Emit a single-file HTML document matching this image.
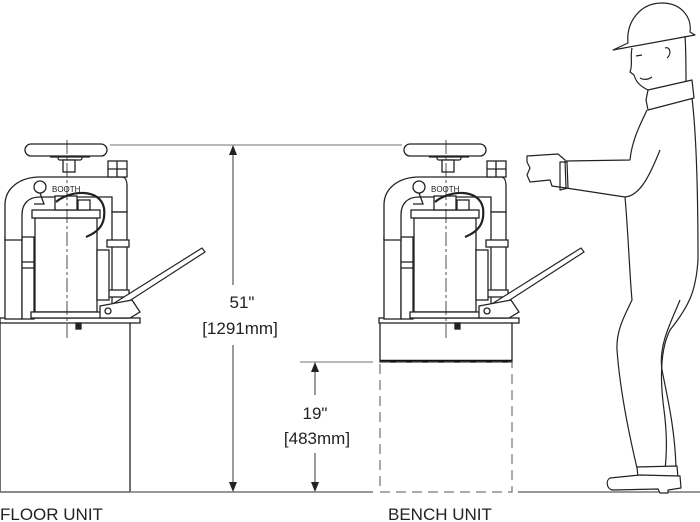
<!DOCTYPE html>
<html><head><style>html,body{margin:0;padding:0;background:#fff}svg{display:block}</style></head><body>
<svg width="700" height="522" viewBox="0 0 700 522" xmlns="http://www.w3.org/2000/svg" font-family="Liberation Sans, sans-serif">
<defs>
<g id="press" fill="#fff" stroke="#222" stroke-width="1.3">
 <rect x="0" y="318" width="140" height="5"/>
 <rect x="5" y="237" width="17" height="82"/>
 <rect x="22" y="237" width="12" height="82"/>
 <line x1="22" y1="262" x2="34" y2="262"/><line x1="22" y1="268" x2="34" y2="268"/>
 <path d="M5,240 L5,205 C5,188 20,177 40,177 L122,177 C126,177 127,182 127,186 L127,212 L112,212 L112,197 L40,197 C28,197 22,204 22,215 L22,240 Z"/>
 <rect x="112" y="212" width="15" height="106"/>
 <rect x="107" y="240" width="22" height="7"/><rect x="107" y="290" width="22" height="7"/>
 <rect x="108" y="161" width="19" height="16"/>
 <line x1="117" y1="161" x2="117" y2="177"/><line x1="108" y1="169" x2="127" y2="169"/>
 <rect x="35" y="218" width="62" height="94"/>
 <rect x="32" y="210" width="68" height="8"/>
 <rect x="31" y="312" width="70" height="6"/>
 <rect x="97" y="250" width="12" height="50"/>
 <rect x="55" y="196" width="22" height="14"/><rect x="78" y="200" width="12" height="10"/>
 <circle cx="40" cy="187" r="6"/>
 <path d="M40,193 L44,204 L34,204" fill="none"/>
 <path d="M56,202 C70,190 100,188 104,208 C106,225 98,232 86,237" fill="none" stroke-width="2.2"/>
 <rect x="58" y="154" width="24" height="6" rx="2"/>
 <rect x="63" y="160" width="12" height="12"/>
 <path d="M50,157 L90,157 L82,154 L58,154 Z"/>
 <rect x="25" y="144" width="82" height="12" rx="6"/>
 <path d="M103,318 L205,252 L202,248 L100,312 Z" stroke-width="1.2"/>
 <path d="M100,306 L132,300 L140,312 L130,318 L100,318 Z"/>
 <circle cx="108" cy="311" r="3"/>
 <line x1="67" y1="140" x2="67" y2="340" stroke-width="0.8" stroke-dasharray="14,3,3,3"/>
 <rect x="76" y="323" width="5" height="6" fill="#222"/>
 <text x="52" y="192" font-size="8" fill="#222" stroke="none">BOOTH</text>
</g>
</defs>

<rect x="0" y="322" width="130" height="170" fill="#fff" stroke="#222" stroke-width="1.3"/>
<use href="#press" x="0" y="0"/>
<rect x="380" y="322" width="132" height="40" fill="#fff" stroke="#222" stroke-width="1.3"/>
<line x1="380" y1="361" x2="512" y2="361" stroke="#111" stroke-width="2.5"/>
<rect x="380" y="362" width="132" height="130" fill="none" stroke="#555" stroke-width="1" stroke-dasharray="10,6"/>
<use href="#press" x="379" y="0"/>

<line x1="0" y1="492" x2="373" y2="492" stroke="#777" stroke-width="1.5"/>
<line x1="518" y1="492" x2="700" y2="492" stroke="#777" stroke-width="1.5"/>

<line x1="110" y1="145" x2="402" y2="145" stroke="#444" stroke-width="0.8"/>
<line x1="233" y1="155" x2="233" y2="285" stroke="#222" stroke-width="0.9"/>
<path d="M229,155 L233,145 L237,155 Z" fill="#222"/>
<line x1="233" y1="345" x2="233" y2="483" stroke="#222" stroke-width="0.9"/>
<path d="M229,482 L233,492 L237,482 Z" fill="#222"/>
<text x="242" y="308" font-size="17" text-anchor="middle" fill="#222">51"</text>
<text x="240" y="334" font-size="17" text-anchor="middle" fill="#222">[1291mm]</text>

<line x1="300" y1="362" x2="373" y2="362" stroke="#444" stroke-width="0.8"/>
<line x1="315" y1="372" x2="315" y2="395" stroke="#222" stroke-width="0.9"/>
<path d="M311,372 L315,362 L319,372 Z" fill="#222"/>
<line x1="315" y1="453" x2="315" y2="483" stroke="#222" stroke-width="0.9"/>
<path d="M311,482 L315,492 L319,482 Z" fill="#222"/>
<text x="315" y="419" font-size="17" text-anchor="middle" fill="#222">19"</text>
<text x="317" y="444" font-size="17" text-anchor="middle" fill="#222">[483mm]</text>

<text x="0" y="520" font-size="17" fill="#222">FLOOR UNIT</text>
<text x="388" y="520" font-size="17" fill="#222">BENCH UNIT</text>

<g fill="none" stroke="#222" stroke-width="1.2" stroke-linejoin="round">
 <path d="M613,50 L628,43 C626,22 640,3 662,3 C682,3 692,18 690,32 L695,35 Z" fill="#fff"/>
 <path d="M632,48 C630,58 633,65 630,72 L634,75 C636,82 640,86 648,90"/>
 <path d="M685,36 C686,50 686,70 686,82"/>
 <path d="M665,48 C670,46 672,54 667,58"/>
 <path d="M636,56 L642,55"/>
 <path d="M640,78 C643,80 648,80 652,77"/>
 <path d="M648,90 L692,80 L694,98 L648,110 L646,100 Z"/>
 <path d="M647,110 C640,125 632,140 630,160 L566,161"/>
 <path d="M692,98 C697,140 698,200 698,260 C696,290 690,305 670,330 C660,350 660,380 664,410 C668,440 666,460 665,470"/>
 <path d="M566,188 L625,197 C640,196 650,175 660,150"/>
 <path d="M625,197 C628,230 630,280 632,300 C625,315 616,330 617,350 C620,390 628,430 637,468"/>
 <path d="M680,300 C672,320 658,345 662,370 C668,400 675,430 676,468"/>
 <path d="M527,156 L558,154 L565,160 L566,188 L552,186 L550,180 L530,182 L527,175 L530,168 L527,162 Z" fill="#fff"/>
 <path d="M560,162 L567,162 L568,188 L560,190 Z"/>
 <path d="M637,467 L677,466 L678,478 L638,478 Z" fill="#fff"/>
 <path d="M610,478 L640,475 L680,476 L681,488 L668,490 L668,493 L660,493 L658,489 L612,490 C606,488 606,480 610,478 Z" fill="#fff"/>
</g>
</svg>
</body></html>
